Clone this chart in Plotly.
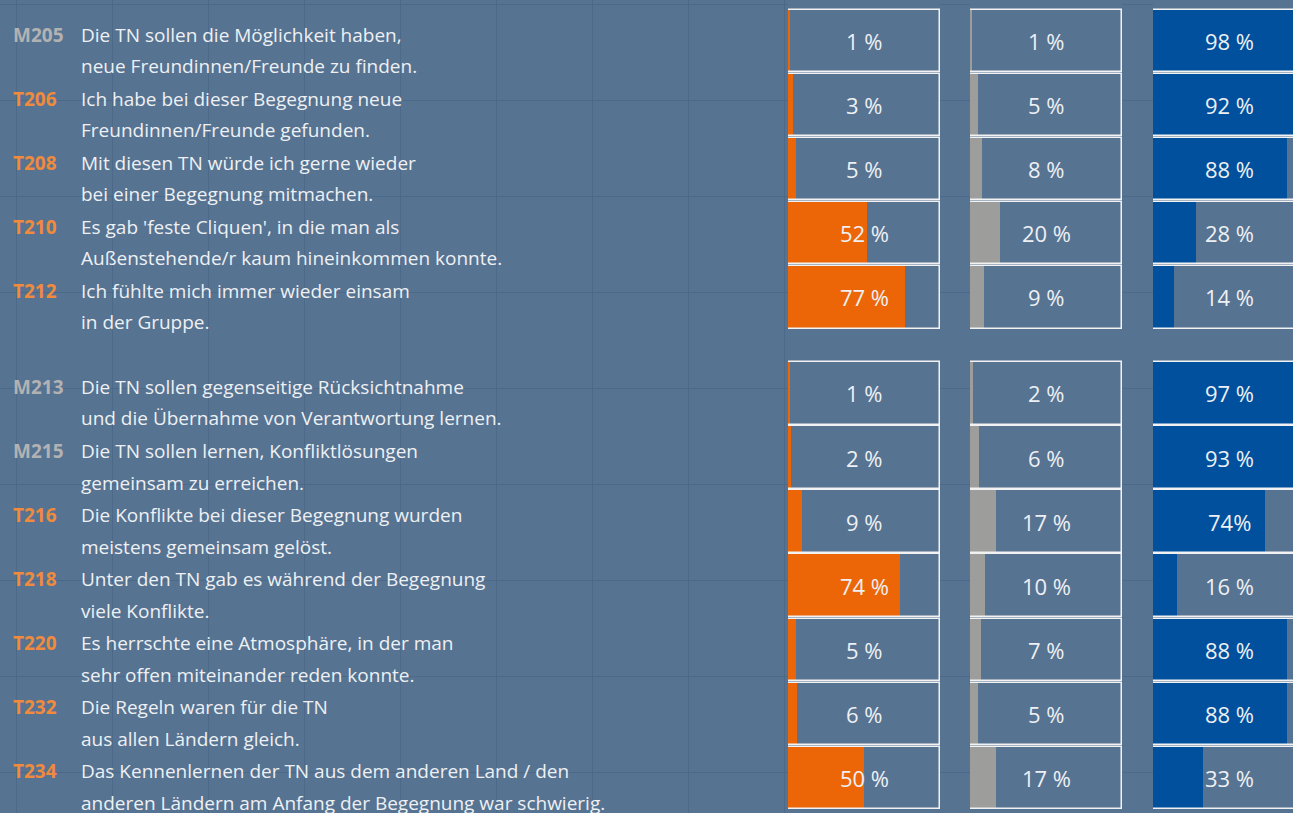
import plotly.graph_objects as go

# ---------------- data ----------------
codes = ["M205", "T206", "T208", "T210", "T212",
         "M213", "M215", "T216", "T218", "T220", "T232", "T234"]
groups = [1, 1, 1, 1, 1, 2, 2, 2, 2, 2, 2, 2]
text_line1 = [
    "Die TN sollen die Möglichkeit haben,",
    "Ich habe bei dieser Begegnung neue",
    "Mit diesen TN würde ich gerne wieder",
    "Es gab 'feste Cliquen', in die man als",
    "Ich fühlte mich immer wieder einsam",
    "Die TN sollen gegenseitige Rücksichtnahme",
    "Die TN sollen lernen, Konfliktlösungen",
    "Die Konflikte bei dieser Begegnung wurden",
    "Unter den TN gab es während der Begegnung",
    "Es herrschte eine Atmosphäre, in der man",
    "Die Regeln waren für die TN",
    "Das Kennenlernen der TN aus dem anderen Land / den",
]
text_line2 = [
    "neue Freundinnen/Freunde zu finden.",
    "Freundinnen/Freunde gefunden.",
    "bei einer Begegnung mitmachen.",
    "Außenstehende/r kaum hineinkommen konnte.",
    "in der Gruppe.",
    "und die Übernahme von Verantwortung lernen.",
    "gemeinsam zu erreichen.",
    "meistens gemeinsam gelöst.",
    "viele Konflikte.",
    "sehr offen miteinander reden konnte.",
    "aus allen Ländern gleich.",
    "anderen Ländern am Anfang der Begegnung war schwierig.",
]
orange_vals = [1, 3, 5, 52, 77, 1, 2, 9, 74, 5, 6, 50]
gray_vals = [1, 5, 8, 20, 9, 2, 6, 17, 10, 7, 5, 17]
blue_vals = [98, 92, 88, 28, 14, 97, 93, 74, 16, 88, 88, 33]
orange_labels = [f"{v} %" for v in orange_vals]
gray_labels = [f"{v} %" for v in gray_vals]
blue_labels = [f"{v} %" for v in blue_vals]
blue_labels[7] = "74%"

# ---------------- style ----------------
W, H = 1293, 813
BG = "#567392"
GRID = "#4c6989"
ORANGE = "#ec6608"
GRAY = "#9d9d9b"
BLUE = "#00509e"
CODE_T = "#f08a3c"
CODE_M = "#b2b2b2"
TXT = "#eef0f3"
FONT = "Open Sans"

# row positions (gap of half a row between the two groups)
ypos = [i + 0.5 * (g - 1) for i, g in enumerate(groups)]
ROW_PX = 64.08
FIRST_CENTER_PX = 41
y_top = -FIRST_CENTER_PX / ROW_PX
y_bot = (H - FIRST_CENTER_PX) / ROW_PX

# column pixel geometry
COL_W = 152
col_left = [788, 970, 1153]

fig = go.Figure()

columns = [
    (orange_vals, orange_labels, ORANGE, "x2"),
    (gray_vals, gray_labels, GRAY, "x3"),
    (blue_vals, blue_labels, BLUE, "x4"),
]

for vals, labels, color, xa in columns:
    fig.add_trace(go.Bar(
        x=vals, y=ypos, orientation="h", base=0, width=0.975,
        marker=dict(color=color, line=dict(width=0)),
        xaxis=xa, yaxis="y2", hoverinfo="skip", showlegend=False,
    ))
    fig.add_trace(go.Bar(
        x=[100] * len(vals), y=ypos, orientation="h", base=0, width=0.975,
        marker=dict(color="rgba(0,0,0,0)", line=dict(width=1.5, color="#f2f2f2")),
        xaxis=xa, yaxis="y2", hoverinfo="skip", showlegend=False,
    ))
    for y, lab in zip(ypos, labels):
        fig.add_annotation(
            x=50, y=y, xref=xa, yref="y2", text=lab, showarrow=False,
            font=dict(family=FONT, size=22, color=TXT),
            xanchor="center", yanchor="middle",
        )

# left-hand descriptions
for y, code, l1, l2 in zip(ypos, codes, text_line1, text_line2):
    ccol = CODE_M if code.startswith("M") else CODE_T
    y1 = y - 6.5 / ROW_PX
    y2 = y + 25 / ROW_PX
    fig.add_annotation(
        x=11 / W, y=y1, xref="paper", yref="y2", text=f"<b>{code}</b>",
        showarrow=False, xanchor="left", yanchor="middle",
        font=dict(family=FONT, size=19, color=ccol),
    )
    fig.add_annotation(
        x=79 / W, y=y1, xref="paper", yref="y2", text=l1,
        showarrow=False, xanchor="left", yanchor="middle",
        font=dict(family=FONT, size=19, color=TXT),
    )
    fig.add_annotation(
        x=79 / W, y=y2, xref="paper", yref="y2", text=l2,
        showarrow=False, xanchor="left", yanchor="middle",
        font=dict(family=FONT, size=19, color=TXT),
    )

# invisible trace to establish background grid axes
fig.add_trace(go.Scatter(x=[0], y=[0], mode="markers", marker=dict(opacity=0),
                         xaxis="x", yaxis="y", hoverinfo="skip", showlegend=False))

col_axes = {}
for k, left in enumerate(col_left):
    d0 = left / W
    d1 = min((left + COL_W) / W, 1.0)
    rng_max = 100 * (d1 * W - left) / COL_W
    col_axes[f"xaxis{k + 2}"] = dict(
        domain=[d0, d1], range=[0, rng_max], anchor="y2",
        showgrid=False, zeroline=False, showticklabels=False, ticks="",
        fixedrange=True, showline=False,
    )

fig.update_layout(
    width=W, height=H,
    margin=dict(l=0, r=0, t=0, b=0, pad=0),
    paper_bgcolor=BG, plot_bgcolor=BG,
    barmode="overlay", bargap=0,
    xaxis=dict(domain=[0, 1], range=[-16 / 96, (W - 16) / 96], dtick=1, tick0=0,
               showgrid=True, gridcolor=GRID, gridwidth=1, zeroline=False,
               showticklabels=False, ticks="", fixedrange=True),
    yaxis=dict(domain=[0, 1], range=[(H - 4) / 96, -4 / 96], dtick=1, tick0=0,
               showgrid=True, gridcolor=GRID, gridwidth=1, zeroline=False,
               showticklabels=False, ticks="", fixedrange=True),
    yaxis2=dict(domain=[0, 1], range=[y_bot, y_top], anchor="x2",
                showgrid=False, zeroline=False, showticklabels=False, ticks="",
                fixedrange=True),
    **col_axes,
)

fig.write_html(
    "out.html",
    config={"displayModeBar": False},
    post_script="document.body.style.margin='0';document.body.style.padding='0';"
                "document.body.style.overflow='hidden';document.body.style.background='" + BG + "';",
)
